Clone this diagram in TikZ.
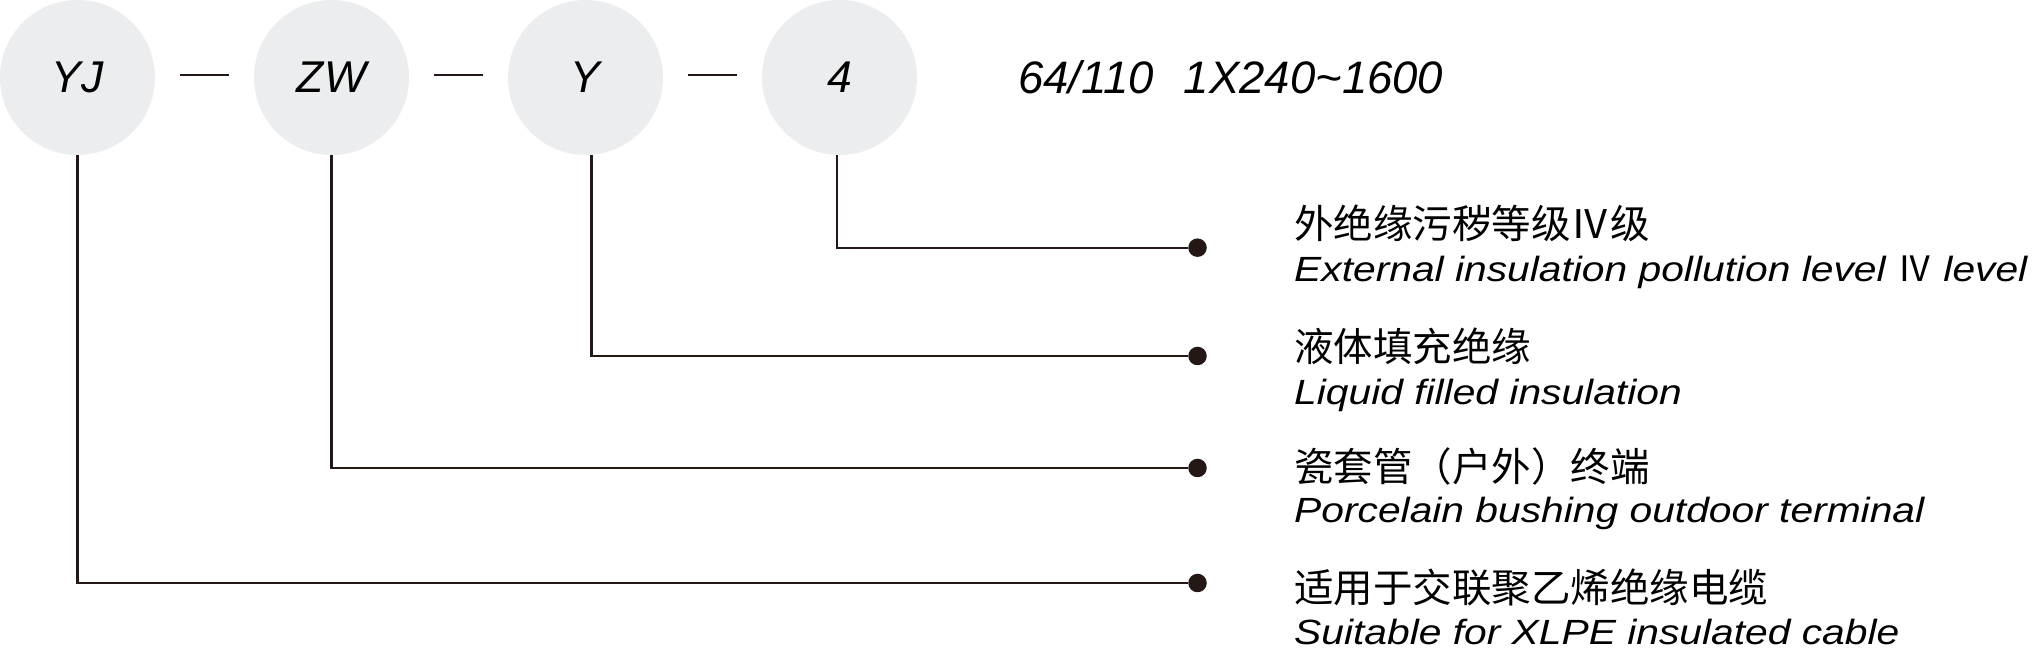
\documentclass[tikz,border=0pt]{standalone}
\usepackage{fontspec}
\setmainfont{Liberation Sans}
\newfontfamily\cjk{Noto Sans CJK SC}
\newfontfamily\enfont[FakeStretch=1.165]{Liberation Sans}
\usetikzlibrary{positioning}
\definecolor{bubble}{RGB}{236,237,239}
\definecolor{ink}{RGB}{35,24,21}

\begin{document}
\begin{tikzpicture}[x=1pt,y=1pt,node distance=254pt,on grid,
		code/.style={circle,fill=bubble,minimum size=155pt,inner sep=0pt,font=\itshape\fontsize{44.5}{44.5}\selectfont},
		dashsign/.style={minimum width=48pt,minimum height=2pt,inner sep=0pt,yshift=2.5pt},
		dot/.style={circle,fill=ink,minimum size=18.5pt,inner sep=0pt},
		lead/.style={draw=ink,line width=2.2pt},
		cn/.style={anchor=base west,inner sep=0pt,font=\cjk\fontsize{39.5}{40}\selectfont},
		en/.style={anchor=base west,inner sep=0pt,font=\enfont\itshape\fontsize{35}{36}\selectfont}]
		\useasboundingbox (0,0) rectangle (2040,650);
		\node[code] (yj) at (77.5,572.5) {YJ};
		\node[code] (zw) [right=of yj] {ZW};
		\node[code] (y) [right=of zw] {Y};
		\node[code] (four) [right=of y] {4};
		\node[dashsign] (d1) [right=127pt of yj] {};
		\node[dashsign] (d2) [right=127pt of zw] {};
		\node[dashsign] (d3) [right=127pt of y] {};
		\node[anchor=west,inner sep=0pt,font=\itshape\fontsize{45.5}{45.5}\selectfont] (size) at (1018,572.5) {64/110\hspace{30pt}1X240\textasciitilde1600};
		\node[dot] (p4) at (1197.5,402.3) {};
		\node[dot] (p3) at (1197.5,294) {};
		\node[dot] (p2) at (1197.5,182) {};
		\node[dot] (p1) at (1197.5,67) {};
		\node[cn] (c4) at (1294,411) {外绝缘污秽等级Ⅳ级};
		\node[en] (e4) at (1294,368) {External insulation pollution level {\cjk\upshape Ⅳ} level};
		\node[cn] (c3) at (1294,288) {液体填充绝缘};
		\node[en] (e3) at (1294,245) {Liquid filled insulation};
		\node[cn] (c2) at (1294,168) {瓷套管（户外）终端};
		\node[en] (e2) at (1294,127) {Porcelain bushing outdoor terminal};
		\node[cn] (c1) at (1294,47.5) {适用于交联聚乙烯绝缘电缆};
		\node[en] (e1) at (1294,5) {Suitable for XLPE insulated cable};
		\path[lead]
			(d1.west) -- (d1.east)
			(d2.west) -- (d2.east)
			(d3.west) -- (d3.east)
			([xshift=-2.5pt]four.south) |- (p4)
			([xshift=6pt]y.south) |- (p3)
			(zw) |- (p2)
			(yj) |- (p1);
	\end{tikzpicture}
\end{document}
